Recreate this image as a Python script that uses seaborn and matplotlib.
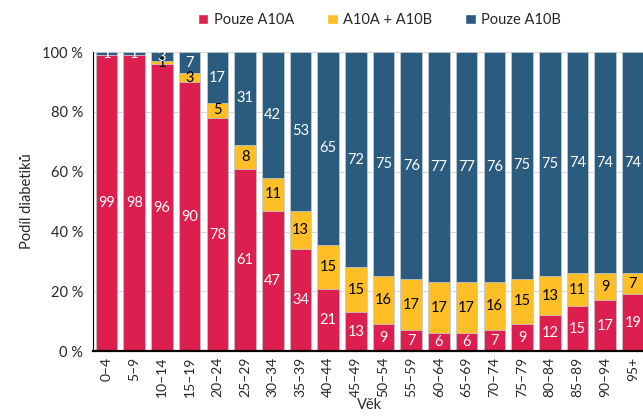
import numpy as np
import pandas as pd
import matplotlib.pyplot as plt
from matplotlib.patches import Patch
from matplotlib.ticker import FixedLocator
import seaborn as sns

# --- data ---
vek = ['0–4', '5–9', '10–14', '15–19', '20–24', '25–29', '30–34', '35–39',
       '40–44', '45–49', '50–54', '55–59', '60–64', '65–69', '70–74',
       '75–79', '80–84', '85–89', '90–94', '95+']
pouze_a10a = [99, 98, 96, 90, 78, 61, 47, 34, 21, 13, 9, 7, 6, 6, 7, 9, 12, 15, 17, 19]
a10a_a10b = [0, 0, 1, 3, 5, 8, 11, 13, 15, 15, 16, 17, 17, 17, 16, 15, 13, 11, 9, 7]
pouze_a10b = [1, 1, 3, 7, 17, 31, 42, 53, 65, 72, 75, 76, 77, 77, 76, 75, 75, 74, 74, 74]

serie = ['Pouze A10A', 'A10A + A10B', 'Pouze A10B']
barvy = ['#dc1f4e', '#fdbe26', '#2b5c80']

sns.set_style('white')
plt.rcParams['font.family'] = ['Lato', 'DejaVu Sans']

df = pd.DataFrame({'vek': vek, 'a': pouze_a10a, 'ab': a10a_a10b, 'b': pouze_a10b})
celkem = df['a'] + df['ab'] + df['b']
# 100% skladany graf - prepocet na podil
df['c1'] = df['a'] / celkem * 100
df['c2'] = (df['a'] + df['ab']) / celkem * 100
df['c3'] = 100.0

fig = plt.figure(figsize=(6.43, 4.17), dpi=100)
ax = fig.add_axes([0.1442, 0.158, 0.8616, 0.717])

ax.yaxis.grid(True, color='#d9d9d9', linewidth=0.8)
ax.set_axisbelow(True)

for col, barva in zip(['c3', 'c2', 'c1'], barvy[::-1]):
    sns.barplot(data=df, x='vek', y=col, color=barva, width=0.78,
                edgecolor='#c9d1d9', linewidth=0.5, saturation=1, ax=ax)

# popisky hodnot uprostred segmentu
for i in range(len(vek)):
    dno = 0
    for val, barva_txt in zip([pouze_a10a[i], a10a_a10b[i], pouze_a10b[i]],
                              ['white', 'black', 'white']):
        vyska = val / celkem[i] * 100
        if val > 0:
            ax.text(i, dno + vyska / 2, str(val), ha='center', va='center',
                    color=barva_txt, fontsize=10.5)
        dno += vyska

ax.set_xlim(-0.5, len(vek) - 0.5)
ax.set_ylim(0, 100)
ax.set_yticks([0, 20, 40, 60, 80, 100])
ax.set_yticklabels([f'{v}\u00a0%' for v in range(0, 101, 20)], fontsize=10.5)
ax.tick_params(axis='y', direction='out', length=4, width=0.8, color='black', pad=3)
ax.set_xticks(range(len(vek)))
ax.set_xticklabels(vek, rotation=90, fontsize=10)
ax.tick_params(axis='x', which='major', length=0, pad=4)
ax.xaxis.set_minor_locator(FixedLocator(np.arange(-0.5, len(vek), 1)))
ax.tick_params(axis='x', which='minor', direction='out', length=4, width=0.8, color='black')

for s in ['top', 'right']:
    ax.spines[s].set_visible(False)
ax.spines['left'].set_color('black')
ax.spines['left'].set_linewidth(0.8)
ax.spines['bottom'].set_color('black')
ax.spines['bottom'].set_linewidth(1.6)

ax.set_ylabel('Podíl diabetiků', fontsize=10.5, labelpad=6)
ax.set_xlabel('Věk', fontsize=10.5, labelpad=1)

handles = [Patch(facecolor=b, label=s) for s, b in zip(serie, barvy)]
fig.legend(handles=handles, loc='upper center', bbox_to_anchor=(0.59, 1.0), ncol=3,
           frameon=False, fontsize=10.5, handlelength=0.75, handleheight=0.75,
           handletextpad=0.4, columnspacing=2.2)

plt.savefig('out.png', dpi=100)
plt.close()
